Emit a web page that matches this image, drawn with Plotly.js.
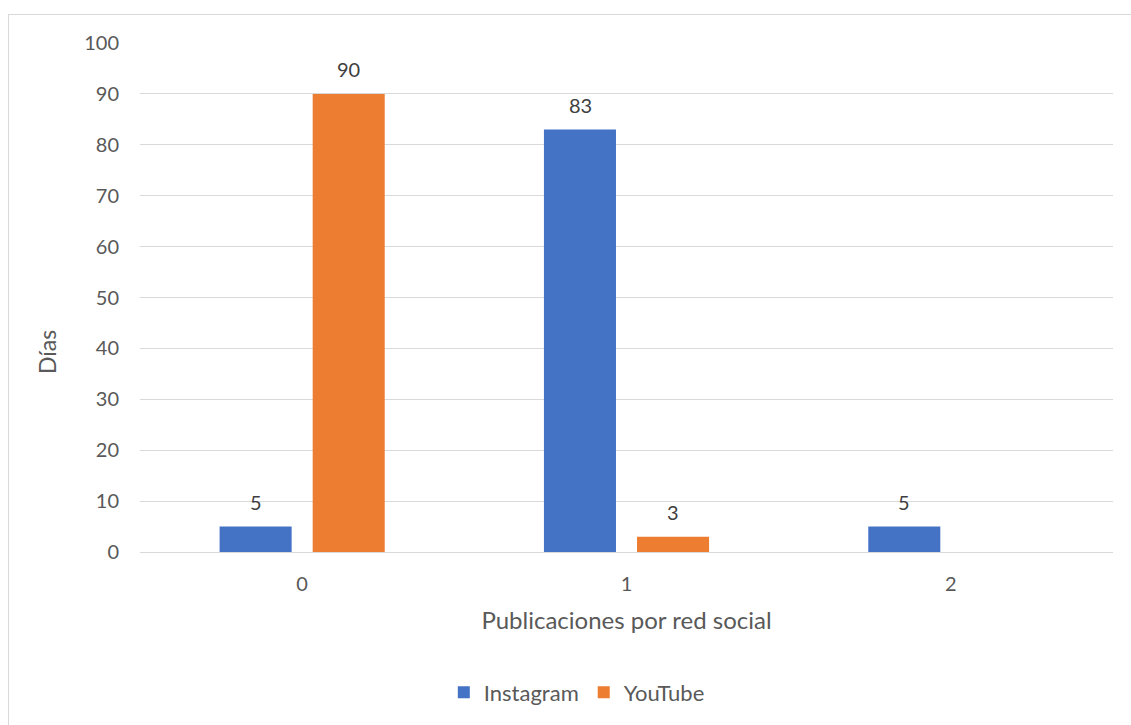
<!DOCTYPE html>
<html><head><meta charset="utf-8">
<script src="https://cdn.plot.ly/plotly-3.0.1.min.js"></script>
<style>
html,body{margin:0;padding:0;background:#fff;}
#wrap{position:relative;width:1131px;height:725px;overflow:hidden;}
#chart{position:absolute;left:0;top:0;width:1131px;height:725px;}
#frame{position:absolute;left:8px;top:14px;width:1200px;height:800px;border-left:1px solid #d9d9d9;border-top:1px solid #d9d9d9;pointer-events:none;}
</style></head>
<body>
<div id="wrap"><div id="chart"></div><div id="frame"></div></div>
<script>
const categories = ["0", "1", "2"];
const instagram = [5, 83, 5];
const youtube = [90, 3, null];
const seriesNames = ["Instagram", "YouTube"];
const yTicks = [0, 10, 20, 30, 40, 50, 60, 70, 80, 90, 100];
const yTitle = "Días";
const xTitle = "Publicaciones por red social";

const FONT = "Lato, 'Open Sans', sans-serif";
const GREY = "#595959";
const colors = ["#4472C4", "#ED7D31"];
const series = [instagram, youtube];

const traces = series.map((vals, i) => ({
  type: "bar",
  name: seriesNames[i],
  x: categories,
  y: vals,
  marker: {color: colors[i], line: {width: 0}},
  hoverinfo: "x+y+name"
}));

const annotations = [];
series.forEach((vals, i) => {
  vals.forEach((v, j) => {
    if (v === null || v === undefined) return;
    annotations.push({
      xref: "x", yref: "y", x: categories[j], y: v,
      xshift: i === 0 ? -46.5 : 46.5, yshift: 11,
      yanchor: "bottom", xanchor: "center",
      text: String(v), showarrow: false,
      font: {family: FONT, size: 20, color: "#404040"}
    });
  });
});
// y-axis title placed like the original (below the vertical centre)
annotations.push({
  xref: "paper", yref: "paper", x: 0, y: 0.393, xshift: -93,
  xanchor: "center", yanchor: "middle", textangle: -90,
  text: yTitle, showarrow: false,
  font: {family: FONT, size: 23, color: GREY}
});

const layout = {
  width: 1131, height: 725,
  margin: {l: 140, r: 18, t: 43, b: 173, pad: 0},
  paper_bgcolor: "#fff", plot_bgcolor: "#fff",
  barmode: "group", bargap: 0.426, bargroupgap: 0.226,
  font: {family: FONT, color: GREY, size: 19},
  xaxis: {
    type: "category",
    showgrid: false, zeroline: false,
    showline: true, linecolor: "#d9d9d9", linewidth: 1,
    ticks: "", tickfont: {family: FONT, size: 20, color: GREY},
    ticklabelstandoff: 14,
    title: {text: xTitle, font: {family: FONT, size: 24, color: GREY}, standoff: 18}
  },
  yaxis: {
    range: [0, 100], tickvals: yTicks, ticktext: yTicks.map(String),
    showgrid: true, gridcolor: "#d9d9d9", gridwidth: 1,
    zeroline: false, showline: false, ticks: "",
    tickfont: {family: FONT, size: 20, color: GREY},
    ticklabelstandoff: 20
  },
  legend: {
    orientation: "h", xref: "container", yref: "container",
    x: 0.51, y: 0.045, xanchor: "center", yanchor: "middle",
    font: {family: FONT, size: 22, color: GREY},
    itemwidth: 30, traceorder: "normal"
  },
  annotations: annotations,
  showlegend: true
};

Plotly.newPlot("chart", traces, layout, {displayModeBar: false, staticPlot: true});
</script>
</body></html>
